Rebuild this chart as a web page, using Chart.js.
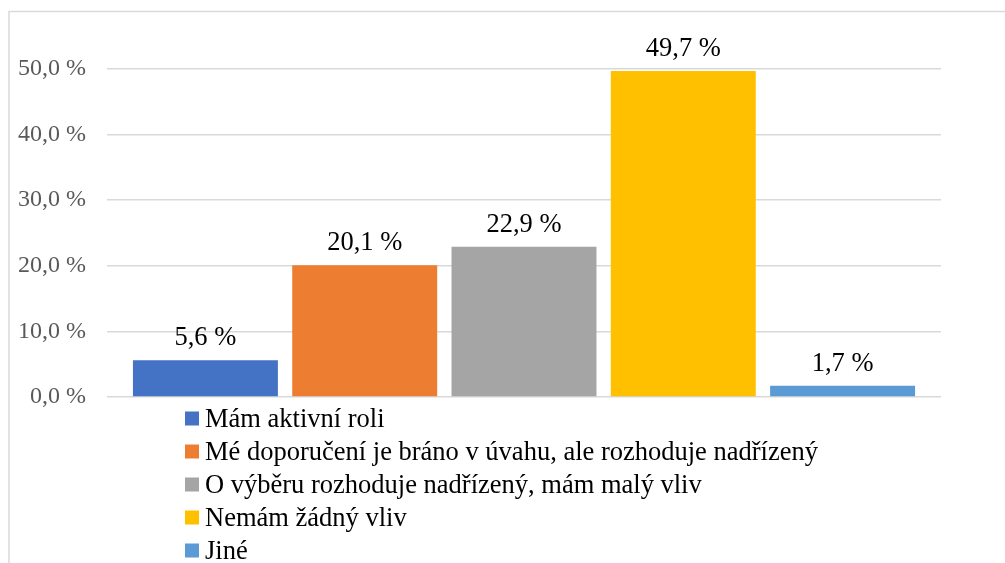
<!DOCTYPE html>
<html lang="cs">
    <head>
        <meta charset="UTF-8" />
        <title>Vliv na výběr</title>
        <script src="https://cdn.jsdelivr.net/npm/chart.js"></script>
        <style>
            body { margin: 0; background: #fff; }
            #wrap { width: 1005px; height: 563px; position: relative; }
        </style>
    </head>
    <body>
        <div id="wrap"><canvas id="myChart"></canvas></div>

        <script>
            // kategorie odpovědí a jejich podíly v %
            const odpovedi = [
                "Mám aktivní roli",
                "Mé doporučení je bráno v úvahu, ale rozhoduje nadřízený",
                "O výběru rozhoduje nadřízený, mám malý vliv",
                "Nemám žádný vliv",
                "Jiné",
            ];
            const podily = [5.6, 20.1, 22.9, 49.7, 1.7];
            const barvy = ["#4472C4", "#ED7D31", "#A5A5A5", "#FFC000", "#5B9BD5"];
            const osaY = [0, 10, 20, 30, 40, 50];

            const pismo = "Liberation Serif";
            const fmt = (v) => v.toFixed(1).replace(".", ",") + " %";

            // rámeček grafu
            const ramecek = {
                id: "ramecek",
                beforeDraw(chart) {
                    const c = chart.ctx;
                    c.save();
                    c.fillStyle = "#fff";
                    c.fillRect(0, 0, chart.width, chart.height);
                    c.strokeStyle = "#d9d9d9";
                    c.lineWidth = 1.5;
                    c.strokeRect(9, 11.5, chart.width + 20, chart.height + 20);
                    c.restore();
                },
            };

            // popisky hodnot nad sloupci
            const popisky = {
                id: "popisky",
                afterDatasetsDraw(chart) {
                    const c = chart.ctx;
                    c.save();
                    c.font = "26.5px '" + pismo + "'";
                    c.fillStyle = "#000";
                    c.textAlign = "center";
                    c.textBaseline = "alphabetic";
                    chart.data.datasets.forEach((ds, i) => {
                        const bar = chart.getDatasetMeta(i).data[0];
                        c.fillText(fmt(ds.data[0]), bar.x, bar.y - 15);
                    });
                    c.restore();
                },
            };

            // legenda pod sebou
            const legenda = {
                id: "legenda",
                afterDraw(chart) {
                    const c = chart.ctx;
                    c.save();
                    c.font = "26.5px '" + pismo + "'";
                    c.textBaseline = "alphabetic";
                    chart.data.datasets.forEach((ds, i) => {
                        const y = 418.5 + i * 33;
                        c.fillStyle = ds.backgroundColor;
                        c.fillRect(185, y - 7, 14, 14);
                        c.fillStyle = "#000";
                        c.fillText(ds.label, 205, y + 8.5);
                    });
                    c.restore();
                },
            };

            const ctx = document.getElementById("myChart").getContext("2d");
            const myChart = new Chart(ctx, {
                type: "bar",
                data: {
                    labels: [""],
                    datasets: odpovedi.map((o, i) => ({
                        label: o,
                        data: [podily[i]],
                        backgroundColor: barvy[i],
                        categoryPercentage: 0.955,
                        barPercentage: 0.91,
                    })),
                },
                options: {
                    responsive: true,
                    maintainAspectRatio: false,
                    animation: false,
                    layout: {
                        padding: { top: 69, right: 64, bottom: 166, left: 0 },
                    },
                    plugins: {
                        legend: { display: false },
                        tooltip: { enabled: false },
                    },
                    scales: {
                        x: { display: false },
                        y: {
                            min: 0,
                            max: 50,
                            afterFit(scale) {
                                scale.width = 107;
                            },
                            afterBuildTicks(scale) {
                                scale.ticks = osaY.map((v) => ({ value: v }));
                            },
                            border: { display: false },
                            grid: {
                                color: "#d9d9d9",
                                lineWidth: 1.5,
                                drawTicks: false,
                            },
                            ticks: {
                                padding: 21,
                                color: "#595959",
                                font: { family: pismo, size: 24 },
                                callback: (v) => fmt(v),
                            },
                        },
                    },
                },
                plugins: [ramecek, popisky, legenda],
            });
        </script>
    </body>
</html>
